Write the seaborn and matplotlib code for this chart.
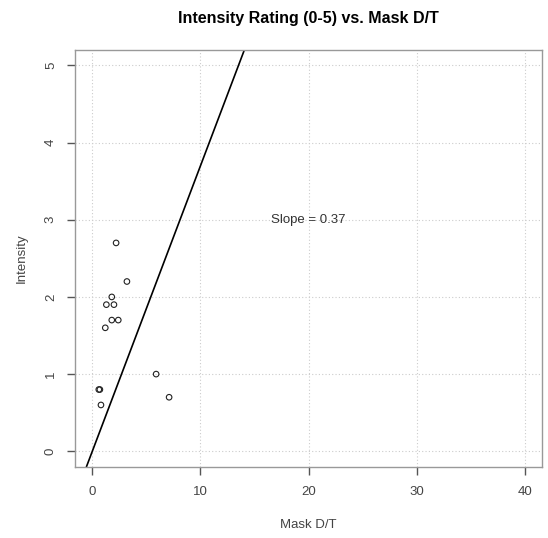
import matplotlib
matplotlib.use("Agg")
import matplotlib.pyplot as plt
import seaborn as sns
import pandas as pd

mask_dt = [0.6, 0.7, 0.8, 1.2, 1.3, 1.8, 2.0, 1.8, 2.4, 2.2, 3.2, 5.9, 7.1]
intensity = [0.8, 0.8, 0.6, 1.6, 1.9, 2.0, 1.9, 1.7, 1.7, 2.7, 2.2, 1.0, 0.7]
slope = 0.37
x_ticks = [0, 10, 20, 30, 40]
y_ticks = [0, 1, 2, 3, 4, 5]
title = "Intensity Rating (0-5) vs. Mask D/T"
annotation = "Slope = 0.37"

df = pd.DataFrame({"Mask D/T": mask_dt, "Intensity": intensity})

sns.set_style("white")
plt.rcParams['font.family'] = ['Liberation Sans', 'DejaVu Sans']

fig = plt.figure(figsize=(5.48, 5.38), dpi=100)
ax = fig.add_axes([75/548, 1-466.7/538, (542.3-75)/548, (466.7-50)/538])

ax.set_xlim(-1.6, 41.6)
ax.set_ylim(-0.2, 5.2)

for xt in x_ticks:
    ax.axvline(xt, color="#cccccc", linestyle=(0, (1, 2)), linewidth=0.8, zorder=0)
for yt in y_ticks:
    ax.axhline(yt, color="#cccccc", linestyle=(0, (1, 2)), linewidth=0.8, zorder=0)

sns.scatterplot(data=df, x="Mask D/T", y="Intensity", ax=ax, marker="o",
                facecolor="none", edgecolor="#222222", linewidth=0.8, s=16, zorder=3)

ax.axline((0, 0), slope=slope, color="black", linewidth=1.2, zorder=2)

ax.text(20, 3.0, annotation, ha="center", va="center", fontsize=9.5, color="#333333")

ax.set_xticks(x_ticks)
ax.set_yticks(y_ticks)
ax.set_xticklabels([str(v) for v in x_ticks])
ax.set_yticklabels([str(v) for v in y_ticks], rotation=90, va="center")
ax.tick_params(axis="both", direction="out", length=6, width=1.0, color="#555555",
               labelsize=9.5, labelcolor="#444444", bottom=True, left=True)
ax.tick_params(axis="x", pad=8)
ax.tick_params(axis="y", pad=7)

for side, sp in ax.spines.items():
    sp.set_visible(True)
    sp.set_color("#999999")
    sp.set_linewidth(1.0)

ax.set_xlabel("")
ax.set_ylabel("")
fig.text((75+542.3)/2/548, 1-525/538, "Mask D/T", ha="center", va="center",
         fontsize=9.5, color="#444444")
fig.text(22/548, 1-(50+466.7)/2/538, "Intensity", ha="center", va="center",
         rotation=90, fontsize=9.5, color="#444444")
fig.text((75+542.3)/2/548, 1-18/538, title, ha="center", va="center",
         fontsize=11.5, fontweight="bold", color="black")

fig.savefig("out.png", dpi=100)
